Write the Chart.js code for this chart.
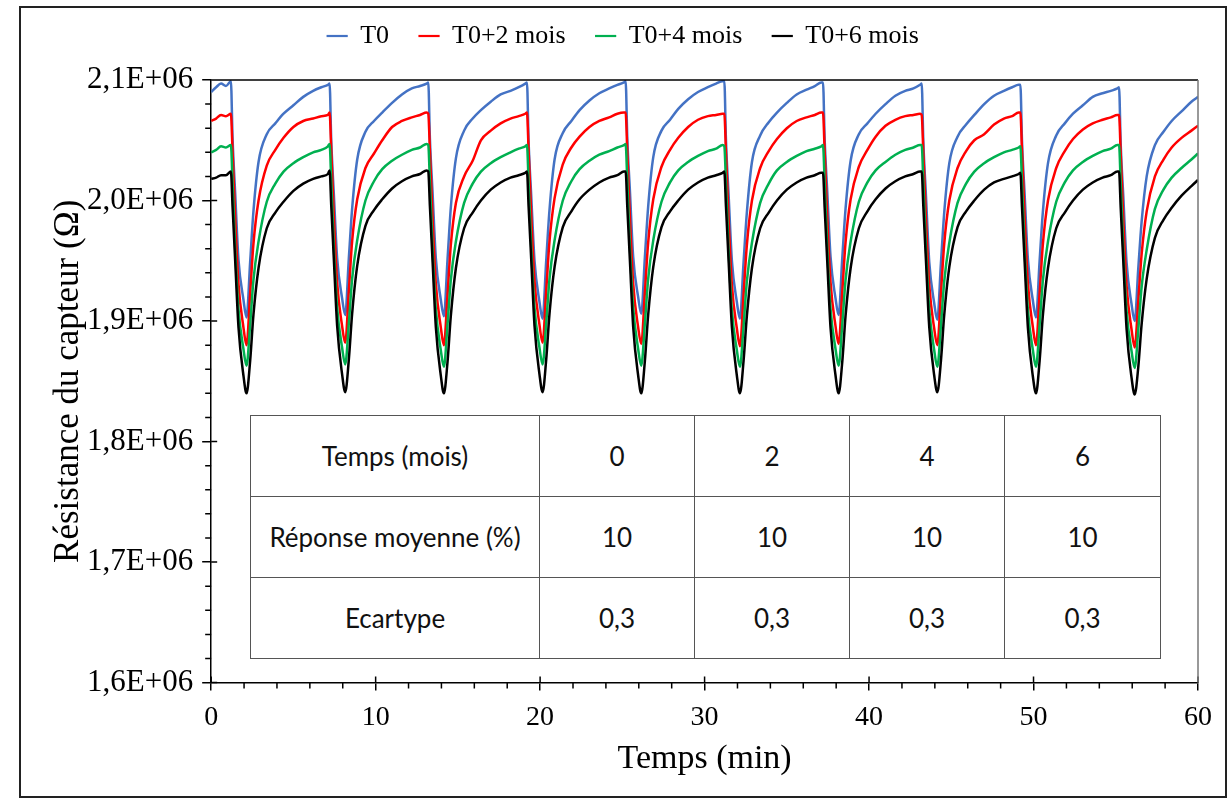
<!DOCTYPE html>
<html>
<head>
<meta charset="utf-8">
<script src="https://cdn.jsdelivr.net/npm/chart.js@4"></script>
<style>
  body { margin: 0; background: #fff; }
  #wrap { position: relative; width: 1229px; height: 800px; }
  #frame { position: absolute; left: 19px; top: 6px; width: 1204px; height: 788px; border: 2px solid #222; pointer-events: none; }
  #stats { position: absolute; left: 250px; top: 415px; width: 906px; table-layout: fixed; border-collapse: collapse; font-family: Lato, "Noto Sans", sans-serif; font-size: 26px; color: #111; background: #fff; }
  #stats td { border: 1px solid #555; text-align: center; height: 80px; padding: 0; }
</style>
</head>
<body>
<div id="wrap">
  <canvas id="lineChart" width="1229" height="800"></canvas>
  <div id="frame"></div>
  <table id="stats"></table>
</div>
<script>
// temps (min)
const times = [
  0, 0.3, 0.6, 0.9,
  1.2, 1.3, 1.46, 1.66, 1.96, 2.15, 2.37, 2.57, 2.88, 3.38, 3.9, 4.4, 5.0, 5.6, 6.2, 6.7, 7.1,
  7.2, 7.3, 7.46, 7.66, 7.96, 8.15, 8.37, 8.57, 8.88, 9.38, 9.9, 10.4, 11.0, 11.6, 12.2, 12.7, 13.1,
  13.2, 13.3, 13.46, 13.66, 13.96, 14.15, 14.37, 14.57, 14.88, 15.38, 15.9, 16.4, 17.0, 17.6, 18.2, 18.7, 19.1,
  19.2, 19.3, 19.46, 19.66, 19.96, 20.15, 20.37, 20.57, 20.88, 21.38, 21.9, 22.4, 23.0, 23.6, 24.2, 24.7, 25.1,
  25.2, 25.3, 25.46, 25.66, 25.96, 26.15, 26.37, 26.57, 26.88, 27.38, 27.9, 28.4, 29.0, 29.6, 30.2, 30.7, 31.1,
  31.2, 31.3, 31.46, 31.66, 31.96, 32.15, 32.37, 32.57, 32.88, 33.38, 33.9, 34.4, 35.0, 35.6, 36.2, 36.7, 37.1,
  37.2, 37.3, 37.46, 37.66, 37.96, 38.15, 38.37, 38.57, 38.88, 39.38, 39.9, 40.4, 41.0, 41.6, 42.2, 42.7, 43.1,
  43.2, 43.3, 43.46, 43.66, 43.96, 44.15, 44.37, 44.57, 44.88, 45.38, 45.9, 46.4, 47.0, 47.6, 48.2, 48.7, 49.1,
  49.2, 49.3, 49.46, 49.66, 49.96, 50.15, 50.37, 50.57, 50.88, 51.38, 51.9, 52.4, 53.0, 53.6, 54.2, 54.7, 55.1,
  55.2, 55.3, 55.46, 55.66, 55.96, 56.15, 56.37, 56.57, 56.88, 57.38, 57.9, 58.4, 59.0, 59.6, 60.0
];

// résistance en kOhm
const t0 = [
  2090, 2094, 2097, 2095,
  2099, 2052, 2006, 1951, 1918, 1903, 1949, 1991, 2032, 2055, 2064, 2072, 2079, 2086, 2091, 2094, 2096,
  2097, 2050, 2005, 1952, 1919, 1905, 1952, 1993, 2034, 2057, 2066, 2073, 2081, 2088, 2093, 2095, 2097,
  2098, 2051, 2007, 1952, 1918, 1904, 1951, 1994, 2035, 2058, 2068, 2075, 2082, 2088, 2091, 2094, 2097,
  2098, 2049, 2004, 1950, 1916, 1902, 1950, 1992, 2034, 2056, 2066, 2075, 2083, 2089, 2093, 2096, 2098,
  2099, 2052, 2008, 1953, 1920, 1906, 1953, 1995, 2036, 2058, 2067, 2076, 2084, 2090, 2094, 2097, 2099,
  2099, 2050, 2005, 1950, 1916, 1902, 1949, 1990, 2032, 2054, 2065, 2073, 2081, 2088, 2092, 2095, 2098,
  2098, 2051, 2007, 1953, 1919, 1905, 1952, 1993, 2033, 2055, 2064, 2072, 2080, 2087, 2091, 2093, 2096,
  2097, 2049, 2004, 1949, 1915, 1901, 1948, 1990, 2031, 2053, 2063, 2071, 2080, 2087, 2091, 2094, 2096,
  2096, 2049, 2005, 1951, 1917, 1903, 1950, 1991, 2031, 2054, 2064, 2072, 2079, 2086, 2089, 2091, 2093,
  2094, 2047, 2003, 1948, 1914, 1900, 1944, 1982, 2020, 2046, 2057, 2066, 2074, 2082, 2086
];
const t2 = [
  2066, 2068, 2071, 2070,
  2072, 2041, 1986, 1931, 1895, 1880, 1923, 1964, 2000, 2029, 2042, 2052, 2061, 2066, 2068, 2070, 2071,
  2073, 2042, 1987, 1932, 1896, 1882, 1925, 1966, 2001, 2027, 2039, 2050, 2061, 2066, 2069, 2071, 2073,
  2072, 2041, 1986, 1931, 1895, 1880, 1922, 1963, 1998, 2020, 2033, 2050, 2058, 2064, 2068, 2070, 2072,
  2073, 2042, 1988, 1933, 1897, 1882, 1925, 1966, 2002, 2030, 2044, 2053, 2061, 2066, 2069, 2072, 2073,
  2073, 2041, 1986, 1931, 1895, 1881, 1924, 1965, 2001, 2028, 2042, 2052, 2061, 2067, 2070, 2071, 2072,
  2072, 2040, 1985, 1930, 1894, 1879, 1922, 1963, 2000, 2027, 2041, 2051, 2060, 2066, 2069, 2071, 2073,
  2073, 2041, 1986, 1932, 1896, 1881, 1924, 1965, 2001, 2028, 2042, 2053, 2062, 2067, 2070, 2071, 2072,
  2071, 2040, 1985, 1930, 1894, 1880, 1923, 1964, 2000, 2027, 2041, 2050, 2055, 2063, 2068, 2070, 2073,
  2073, 2041, 1986, 1931, 1895, 1880, 1923, 1964, 2000, 2027, 2041, 2051, 2059, 2064, 2067, 2069, 2071,
  2071, 2039, 1984, 1929, 1893, 1878, 1917, 1955, 1991, 2020, 2034, 2044, 2052, 2058, 2062
];
const t4 = [
  2040, 2042, 2045, 2044,
  2046, 2015, 1960, 1910, 1877, 1863, 1897, 1934, 1966, 1999, 2014, 2024, 2031, 2036, 2040, 2042, 2045,
  2047, 2016, 1961, 1911, 1878, 1864, 1898, 1935, 1967, 2000, 2016, 2026, 2033, 2038, 2042, 2044, 2047,
  2046, 2015, 1960, 1910, 1876, 1862, 1897, 1934, 1966, 1998, 2014, 2024, 2031, 2036, 2040, 2043, 2045,
  2046, 2015, 1961, 1911, 1878, 1864, 1898, 1935, 1967, 2000, 2016, 2026, 2033, 2038, 2041, 2044, 2046,
  2047, 2016, 1961, 1911, 1877, 1863, 1898, 1935, 1967, 1999, 2015, 2025, 2032, 2037, 2041, 2043, 2046,
  2045, 2014, 1959, 1909, 1876, 1862, 1896, 1933, 1965, 1998, 2014, 2025, 2032, 2037, 2041, 2043, 2045,
  2046, 2015, 1960, 1910, 1877, 1863, 1897, 1934, 1966, 1999, 2015, 2025, 2032, 2038, 2042, 2044, 2046,
  2046, 2015, 1960, 1910, 1876, 1862, 1896, 1933, 1965, 1998, 2014, 2024, 2031, 2036, 2040, 2042, 2044,
  2045, 2014, 1959, 1909, 1876, 1862, 1897, 1934, 1966, 1999, 2015, 2025, 2032, 2037, 2041, 2043, 2046,
  2046, 2014, 1959, 1908, 1875, 1861, 1893, 1928, 1959, 1993, 2009, 2019, 2027, 2034, 2039
];
const t6 = [
  2018, 2019, 2021, 2021,
  2024, 1995, 1950, 1895, 1855, 1840, 1867, 1905, 1944, 1977, 1990, 1999, 2008, 2014, 2018, 2020, 2022,
  2025, 1996, 1951, 1896, 1856, 1841, 1868, 1906, 1946, 1979, 1992, 2001, 2010, 2016, 2020, 2022, 2025,
  2024, 1995, 1950, 1895, 1855, 1840, 1866, 1904, 1944, 1977, 1990, 2000, 2009, 2015, 2019, 2021, 2023,
  2024, 1995, 1951, 1896, 1856, 1841, 1868, 1906, 1945, 1978, 1991, 2001, 2009, 2015, 2019, 2021, 2024,
  2024, 1995, 1950, 1895, 1855, 1840, 1867, 1905, 1945, 1978, 1991, 2000, 2009, 2015, 2019, 2021, 2023,
  2024, 1995, 1950, 1895, 1855, 1840, 1867, 1904, 1944, 1977, 1990, 2000, 2009, 2015, 2019, 2021, 2023,
  2023, 1994, 1949, 1894, 1855, 1840, 1866, 1904, 1944, 1977, 1991, 2001, 2010, 2016, 2020, 2022, 2024,
  2024, 1995, 1950, 1895, 1855, 1841, 1867, 1905, 1945, 1978, 1991, 2000, 2009, 2015, 2018, 2020, 2022,
  2023, 1994, 1949, 1894, 1854, 1840, 1867, 1905, 1944, 1977, 1990, 2000, 2009, 2015, 2019, 2021, 2024,
  2024, 1994, 1949, 1893, 1853, 1839, 1862, 1897, 1935, 1969, 1984, 1994, 2004, 2012, 2017
];

const seriesLabels = ['T0', 'T0+2 mois', 'T0+4 mois', 'T0+6 mois'];
const seriesColors = ['#4472C4', '#FF0000', '#00B050', '#000000'];

// tableau inséré
const tableHead = ['Temps (mois)', '0', '2', '4', '6'];
const tableRows = [
  ['Réponse moyenne (%)', '10', '10', '10', '10'],
  ['Ecartype', '0,3', '0,3', '0,3', '0,3']
];

const table = document.getElementById('stats');
const colWidths = [288, 154, 154, 154, 155];
[tableHead, ...tableRows].forEach(row => {
  const tr = document.createElement('tr');
  row.forEach((txt, i) => {
    const td = document.createElement('td');
    td.textContent = txt;
    td.style.width = colWidths[i] + 'px';
    tr.appendChild(td);
  });
  table.appendChild(tr);
});

const serif = '"Liberation Serif", "Times New Roman", serif';

// hauteur fixe de la légende pour placer la zone du graphe
const legendSpace = {
  id: 'legendSpace',
  beforeInit(chart) {
    const fit = chart.legend.fit;
    chart.legend.fit = function () {
      fit.call(this);
      this.height = 87;
    };
  }
};

const tickMarks = {
  id: 'tickMarks',
  afterDraw(chart) {
    const {ctx, chartArea: a, scales} = chart;
    ctx.save();
    ctx.strokeStyle = '#000';
    ctx.lineWidth = 1.5;
    ctx.beginPath();
    for (let i = 0; i <= 30; i++) {
      const p = scales.x.getPixelForValue(i * 2);
      if (i % 5 === 0) { ctx.moveTo(p, a.bottom - 6); ctx.lineTo(p, a.bottom); }
      else { ctx.moveTo(p, a.bottom); ctx.lineTo(p, a.bottom + 6); }
    }
    for (let i = 0; i <= 25; i++) {
      const p = scales.y.getPixelForValue(1600000 + i * 20000);
      if (i % 5 === 0) { ctx.moveTo(a.left, p); ctx.lineTo(a.left + 6, p); }
      else { ctx.moveTo(a.left - 6, p); ctx.lineTo(a.left, p); }
    }
    ctx.moveTo(a.left, a.top);
    ctx.lineTo(a.right, a.top);
    ctx.stroke();
    ctx.strokeStyle = '#777';
    ctx.beginPath();
    ctx.moveTo(a.right, a.top);
    ctx.lineTo(a.right, a.bottom);
    ctx.stroke();
    ctx.restore();
  }
};

const allSeries = [t0, t2, t4, t6];

new Chart(document.getElementById('lineChart'), {
  type: 'line',
  data: {
    datasets: allSeries.map((vals, k) => ({
      label: seriesLabels[k],
      data: times.map((t, i) => ({x: t, y: vals[i] * 1000})),
      borderColor: seriesColors[k],
      backgroundColor: seriesColors[k],
      borderWidth: 2.5,
      pointRadius: 0,
      cubicInterpolationMode: 'monotone',
      order: 4 - k
    }))
  },
  options: {
    responsive: false,
    animation: false,
    layout: { padding: { top: -7, left: 48, right: 31, bottom: 21 } },
    plugins: {
      tooltip: { enabled: false },
      legend: {
        position: 'top',
        labels: {
          sort: (a, b) => a.datasetIndex - b.datasetIndex,
          generateLabels(chart) {
            const items = Chart.defaults.plugins.legend.labels.generateLabels(chart);
            items.forEach(it => { it.lineWidth = 1.2; });
            return items;
          },
          boxWidth: 20,
          boxHeight: 1,
          padding: 30,
          color: '#000',
          font: { family: serif, size: 26 }
        }
      }
    },
    scales: {
      x: {
        type: 'linear',
        min: 0,
        max: 60,
        ticks: { stepSize: 10, color: '#000', padding: 10, font: { family: serif, size: 28 } },
        grid: { drawOnChartArea: false, color: '#000', lineWidth: 1.5, tickLength: 8 },
        border: { color: '#000', width: 1.5 },
        title: { display: true, text: 'Temps (min)', color: '#000', padding: { top: -6, bottom: 0 }, font: { family: serif, size: 34 } }
      },
      y: {
        min: 1600000,
        max: 2100000,
        ticks: {
          stepSize: 100000,
          color: '#000',
          padding: 9,
          font: { family: serif, size: 31 },
          callback: v => (v / 1e6).toFixed(1).replace('.', ',') + 'E+06'
        },
        grid: { drawOnChartArea: false, color: '#000', lineWidth: 1.5, tickLength: 9 },
        border: { color: '#000', width: 1.5 },
        title: { display: true, text: 'Résistance du capteur (Ω)', color: '#000', padding: { top: 0, bottom: -12 }, font: { family: serif, size: 35 } }
      }
    }
  },
  plugins: [legendSpace, tickMarks]
});
</script>
</body>
</html>
